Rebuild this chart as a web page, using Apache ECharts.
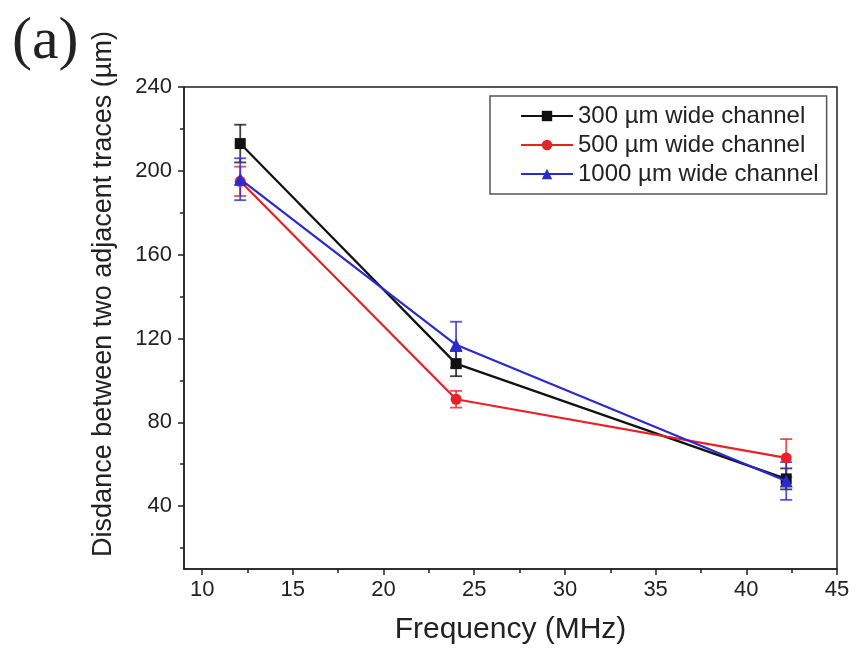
<!DOCTYPE html>
<html><head><meta charset="utf-8">
<script src="https://cdn.jsdelivr.net/npm/echarts@6/dist/echarts.min.js"></script>
<style>html,body{margin:0;padding:0;background:#fff}#c{width:860px;height:663px}</style>
</head><body><div id="c"></div>
<script>
const frequencies = [12.1, 24, 42.2];
const seriesNames = ['300 µm wide channel', '500 µm wide channel', '1000 µm wide channel'];
const dist300 = [213, 108, 53];
const err300 = [9, 6, 5];
const dist500 = [195, 91, 63];
const err500 = [7, 4, 9];
const dist1000 = [196, 117, 52];
const err1000 = [10, 11, 9];
const xMajorTicks = [10, 15, 20, 25, 30, 35, 40, 45];
const xMinorTicks = [12.5, 17.5, 22.5, 27.5, 32.5, 37.5, 42.5];
const yMajorTicks = [40, 80, 120, 160, 200, 240];
const yMinorTicks = [20, 60, 100, 140, 180, 220];

const FONT = 'Liberation Sans, Arial, sans-serif';
const colors = ['#111111', '#ea2026', '#2a2ad0'];
const symbols = ['rect', 'circle', 'triangle'];
const symbolSizes = [11, 11, 13];
const values = [dist300, dist500, dist1000];
const errors = [err300, err500, err1000];

const chart = echarts.init(document.getElementById('c'), null, {renderer: 'canvas'});

const series = [];
values.forEach((vals, i) => {
  series.push({
    type: 'custom',
    name: seriesNames[i] + ' err',
    xAxisIndex: 0, yAxisIndex: 0,
    z: 1,
    silent: true,
    data: frequencies.map((f, j) => [f, vals[j], errors[i][j]]),
    renderItem: function (params, api) {
      const x = api.value(0), y = api.value(1), e = api.value(2);
      const hi = api.coord([x, y + e]);
      const lo = api.coord([x, y - e]);
      const cw = 6;
      const st = {stroke: colors[i], lineWidth: 1.8, opacity: 0.8};
      return {type: 'group', children: [
        {type: 'line', shape: {x1: hi[0], y1: hi[1], x2: lo[0], y2: lo[1]}, style: st},
        {type: 'line', shape: {x1: hi[0] - cw, y1: hi[1], x2: hi[0] + cw, y2: hi[1]}, style: st},
        {type: 'line', shape: {x1: lo[0] - cw, y1: lo[1], x2: lo[0] + cw, y2: lo[1]}, style: st}
      ]};
    }
  });
});
values.forEach((vals, i) => {
  series.push({
    type: 'line',
    name: seriesNames[i],
    xAxisIndex: 0, yAxisIndex: 0,
    z: 3 + i,
    data: frequencies.map((f, j) => [f, vals[j]]),
    symbol: symbols[i],
    symbolSize: symbolSizes[i],
    showAllSymbol: true,
    lineStyle: {color: colors[i], width: 2.2},
    itemStyle: {color: colors[i]},
    emphasis: {disabled: true}
  });
});

const axisLineStyle = {color: '#222', width: 1.5};

chart.setOption({
  animation: false,
  backgroundColor: '#fff',
  grid: {left: 184, right: 23, top: 87, bottom: 94, show: true, borderColor: '#222', borderWidth: 1.5, backgroundColor: 'transparent'},
  legend: {
    data: seriesNames,
    orient: 'vertical',
    left: 490, top: 96,
    itemWidth: 52, itemHeight: 13, itemGap: 5,
    padding: [8, 8, 8, 30],
    borderColor: '#555', borderWidth: 1.5,
    backgroundColor: '#fff',
    textStyle: {fontSize: 24, color: '#222', fontFamily: FONT}
  },
  xAxis: [{
    type: 'value', min: 9, max: 45,
    axisLine: {onZero: false, lineStyle: axisLineStyle},
    axisTick: {customValues: xMajorTicks, length: 6, lineStyle: axisLineStyle},
    axisLabel: {customValues: xMajorTicks, fontSize: 22, margin: 10, color: '#222', fontFamily: FONT},
    splitLine: {show: false},
    name: 'Frequency (MHz)', nameLocation: 'middle', nameGap: 46,
    nameTextStyle: {fontSize: 30, color: '#222', fontFamily: FONT}
  }, {
    type: 'value', min: 9, max: 45, position: 'bottom',
    axisLine: {show: false, onZero: false},
    axisTick: {customValues: xMinorTicks, length: 4, lineStyle: axisLineStyle},
    axisLabel: {show: false},
    splitLine: {show: false}
  }],
  yAxis: [{
    type: 'value', min: 10, max: 240,
    axisLine: {show: true, onZero: false, lineStyle: axisLineStyle},
    axisTick: {show: true, customValues: yMajorTicks, length: 6, lineStyle: axisLineStyle},
    axisLabel: {customValues: yMajorTicks, fontSize: 22, margin: 12, color: '#222', fontFamily: FONT},
    splitLine: {show: false}
  }, {
    type: 'value', min: 10, max: 240, position: 'left',
    axisLine: {show: false, onZero: false},
    axisTick: {show: true, customValues: yMinorTicks, length: 4, lineStyle: axisLineStyle},
    axisLabel: {show: false},
    splitLine: {show: false}
  }],
  graphic: [{
    type: 'text', x: 104, y: 294, rotation: Math.PI / 2,
    style: {text: 'Disdance between two adjacent traces (µm)', font: '27px ' + FONT, fill: '#222', textAlign: 'center', textVerticalAlign: 'middle'}
  }, {
    type: 'text', left: 12, top: 12,
    style: {text: '(a)', font: '60px Liberation Serif, Times New Roman, serif', fill: '#222'}
  }],
  series: series
});
</script>
</body></html>
